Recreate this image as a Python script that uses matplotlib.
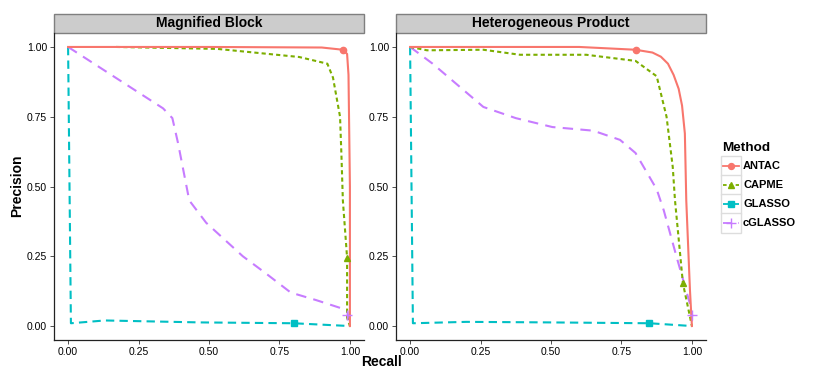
import matplotlib
matplotlib.use("Agg")
import matplotlib.pyplot as plt
from matplotlib.patches import Rectangle
from matplotlib.lines import Line2D

plt.rcParams['font.family'] = ['Liberation Sans', 'DejaVu Sans']

panels = ["Magnified Block", "Heterogeneous Product"]
methods = ["ANTAC", "CAPME", "GLASSO", "cGLASSO"]
colors = {"ANTAC": "#F8766D", "CAPME": "#7CAE00", "GLASSO": "#00BFC4", "cGLASSO": "#C77CFF"}
markers = {"ANTAC": "o", "CAPME": "^", "GLASSO": "s", "cGLASSO": "+"}
msizes = {"ANTAC": 4.5, "CAPME": 5.0, "GLASSO": 4.5, "cGLASSO": 7.0}
styles = {"ANTAC": "-", "CAPME": (0, (2.0, 1.5)), "GLASSO": (0, (4.0, 2.5)), "cGLASSO": (0, (5.0, 3.5))}

# Panel 1: Magnified Block
mb_antac_r = [0.0, 0.50, 0.90, 0.975, 0.99, 0.995, 1.0, 1.0]
mb_antac_p = [1.0, 1.0, 0.998, 0.99, 0.975, 0.90, 0.50, 0.0]
mb_capme_r = [0.17, 0.53, 0.82, 0.92, 0.94, 0.965, 0.97, 0.975, 0.99, 0.99, 1.0]
mb_capme_p = [1.0, 0.993, 0.964, 0.94, 0.89, 0.75, 0.61, 0.45, 0.245, 0.03, 0.0]
mb_glasso_r = [0.0, 0.01, 0.13, 0.47, 0.80, 1.0]
mb_glasso_p = [1.0, 0.01, 0.02, 0.013, 0.01, 0.0]
mb_cglasso_r = [0.0, 0.337, 0.37, 0.39, 0.43, 0.49, 0.62, 0.70, 0.79, 0.88, 0.99, 1.0]
mb_cglasso_p = [1.0, 0.78, 0.745, 0.656, 0.45, 0.37, 0.25, 0.19, 0.12, 0.093, 0.057, 0.0]
mb_mark_r = {"ANTAC": 0.975, "CAPME": 0.99, "GLASSO": 0.80, "cGLASSO": 0.99}
mb_mark_p = {"ANTAC": 0.99, "CAPME": 0.245, "GLASSO": 0.01, "cGLASSO": 0.04}

# Panel 2: Heterogeneous Product
hp_antac_r = [0.0, 0.60, 0.80, 0.86, 0.89, 0.915, 0.935, 0.953, 0.965, 0.975, 0.98, 0.993, 1.0]
hp_antac_p = [1.0, 1.0, 0.99, 0.98, 0.965, 0.94, 0.90, 0.85, 0.79, 0.69, 0.45, 0.13, 0.0]
hp_capme_r = [0.0, 0.06, 0.26, 0.39, 0.625, 0.80, 0.875, 0.91, 0.932, 0.94, 0.968, 1.0]
hp_capme_p = [1.0, 0.988, 0.99, 0.972, 0.972, 0.95, 0.895, 0.75, 0.57, 0.45, 0.154, 0.0]
hp_glasso_r = [0.0, 0.01, 0.20, 0.50, 0.85, 1.0]
hp_glasso_p = [1.0, 0.01, 0.015, 0.013, 0.01, 0.0]
hp_cglasso_r = [0.0, 0.08, 0.26, 0.375, 0.505, 0.65, 0.745, 0.80, 0.875, 0.90, 0.945, 0.993, 1.0, 1.0]
hp_cglasso_p = [1.0, 0.94, 0.785, 0.745, 0.713, 0.70, 0.667, 0.62, 0.49, 0.415, 0.25, 0.08, 0.04, 0.0]
hp_mark_r = {"ANTAC": 0.80, "CAPME": 0.968, "GLASSO": 0.847, "cGLASSO": 1.0}
hp_mark_p = {"ANTAC": 0.99, "CAPME": 0.154, "GLASSO": 0.01, "cGLASSO": 0.04}

data = [
    ({"ANTAC": (mb_antac_r, mb_antac_p), "CAPME": (mb_capme_r, mb_capme_p),
      "GLASSO": (mb_glasso_r, mb_glasso_p), "cGLASSO": (mb_cglasso_r, mb_cglasso_p)},
     mb_mark_r, mb_mark_p),
    ({"ANTAC": (hp_antac_r, hp_antac_p), "CAPME": (hp_capme_r, hp_capme_p),
      "GLASSO": (hp_glasso_r, hp_glasso_p), "cGLASSO": (hp_cglasso_r, hp_cglasso_p)},
     hp_mark_r, hp_mark_p),
]

ticks = [0.0, 0.25, 0.5, 0.75, 1.0]
tick_labels = ["0.00", "0.25", "0.50", "0.75", "1.00"]

W, H = 830, 381
fig = plt.figure(figsize=(W / 100, H / 100), dpi=100)
lefts = [54, 396]
ax_w = 310
top, bottom = 33, 340
strip_h = 19

draw_order = ["GLASSO", "cGLASSO", "CAPME", "ANTAC"]
for i, (panel, (series, mr, mp)) in enumerate(zip(panels, data)):
    ax = fig.add_axes([lefts[i] / W, 1 - bottom / H, ax_w / W, (bottom - top) / H])
    for m in draw_order:
        r, p = series[m]
        ax.plot(r, p, color=colors[m], linestyle=styles[m], lw=1.5, zorder=3)
        ax.plot([mr[m]], [mp[m]], color=colors[m], marker=markers[m],
                markersize=msizes[m], mew=1.0, linestyle="none", zorder=4)
    ax.set_xlim(-0.05, 1.05)
    ax.set_ylim(-0.05, 1.05)
    ax.set_xticks(ticks)
    ax.set_xticklabels(tick_labels)
    ax.set_yticks(ticks)
    ax.set_yticklabels(tick_labels)
    ax.tick_params(labelsize=7.5, length=3, width=0.6, color="#333333", pad=2, labelcolor="black")
    for s in ["top", "right"]:
        ax.spines[s].set_visible(False)
    for s in ["left", "bottom"]:
        ax.spines[s].set_linewidth(0.9)
        ax.spines[s].set_color("#222222")
    sh = strip_h / (bottom - top)
    ax.add_patch(Rectangle((0, 1.0), 1, sh, transform=ax.transAxes, clip_on=False,
                           facecolor="#CCCCCC", edgecolor="#7F7F7F", lw=1.0))
    ax.text(0.5, 1 + sh / 2, panel, transform=ax.transAxes, ha="center", va="center",
            fontsize=10, fontweight="bold")

fig.text(381 / W, 1 - 362 / H, "Recall", ha="center", va="center", fontsize=10, fontweight="bold")
fig.text(17 / W, 1 - 186 / H, "Precision", ha="center", va="center", rotation=90,
         fontsize=10, fontweight="bold")

# Manual legend (ggplot style keys)
fig.text(722 / W, 1 - 148 / H, "Method", ha="left", va="center", fontsize=9.7, fontweight="bold")
row_y = [166, 185, 204, 223]
for m, yy in zip(methods, row_y):
    fig.patches.append(Rectangle((721 / W, 1 - (yy + 10) / H), 20 / W, 20 / H,
                                 transform=fig.transFigure, facecolor="white",
                                 edgecolor="#DDDDDD", lw=1.0))
    fig.lines.append(Line2D([723 / W, 739 / W], [1 - yy / H, 1 - yy / H], transform=fig.transFigure,
                            color=colors[m], linestyle=styles[m], lw=1.3))
    fig.lines.append(Line2D([731 / W], [1 - yy / H], transform=fig.transFigure,
                            color=colors[m], marker=markers[m], markersize=msizes[m] * 0.95,
                            mew=1.0, linestyle="none"))
    fig.text(743 / W, 1 - yy / H, m, ha="left", va="center", fontsize=8, fontweight="bold")

fig.savefig("out.png", dpi=100)
